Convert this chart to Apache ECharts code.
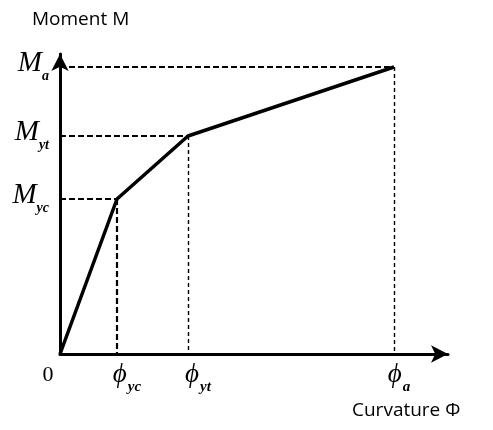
<!DOCTYPE html>
<html>
<head>
<meta charset="utf-8">
<script src="https://cdn.jsdelivr.net/npm/echarts@6/dist/echarts.min.js"></script>
<style>
  html, body { margin: 0; padding: 0; background: #fff; }
</style>
</head>
<body>
<div id="chart" style="width: 493px; height: 430px"></div>
<script>
// key points of the trilinear moment-curvature curve: origin, yc, yt, a
const curvature = [0, 57, 128, 334];
const moment = [0, 155, 218, 287];
const pointSubs = ['', 'yc', 'yt', 'a'];

const serif = '"Liberation Serif", "DejaVu Serif", serif';

// dashed guide lines from each key point to the two axes
const guides = [];
for (let i = 1; i < curvature.length; i++) {
  guides.push([
    { coord: [0, moment[i]], lineStyle: { width: 2.2, type: [6, 3] } },
    { coord: [curvature[i], moment[i]] }
  ]);
  guides.push([
    {
      coord: [curvature[i], moment[i]],
      lineStyle: i === 1 ? { width: 2.2, type: [6, 3] } : { width: 1.4, type: [4, 3] }
    },
    { coord: [curvature[i], 0] }
  ]);
}

function subOf(list, v) {
  const i = list.indexOf(v);
  return i < 0 ? '' : pointSubs[i];
}

const chart = echarts.init(document.getElementById('chart'));
chart.setOption({
  animation: false,
  title: [
    {
      text: 'Moment M',
      left: 32,
      top: 10,
      padding: 0,
      textStyle: { fontFamily: 'Open Sans', fontSize: 19, fontWeight: 'normal', color: '#000' }
    },
    {
      text: 'Curvature Φ',
      left: 352,
      top: 401,
      padding: 0,
      textStyle: { fontFamily: 'Open Sans', fontSize: 19, fontWeight: 'normal', color: '#000' }
    }
  ],
  grid: { left: 60, right: 45, top: 54, bottom: 76 },
  xAxis: {
    type: 'value',
    min: 0,
    max: 388,
    splitLine: { show: false },
    axisTick: { show: false },
    axisLine: {
      onZero: false,
      symbol: ['none', 'arrow'],
      symbolSize: [13, 17],
      lineStyle: { color: '#000', width: 3 }
    },
    axisLabel: {
      customValues: curvature,
      margin: 0,
      color: '#000',
      formatter: function (v) {
        if (v === 0) return '{z|0}';
        const sub = subOf(curvature, v);
        return (sub.length > 1 ? '{p|ϕ}' : '{p1|ϕ}') + '{s|' + sub + '}';
      },
      rich: {
        z: { fontFamily: serif, fontSize: 22, padding: [10, 24, 0, 0], color: '#000' },
        p: { fontFamily: serif, fontSize: 27, fontStyle: 'italic', padding: [0, 0, 0, 20], color: '#000' },
        p1: { fontFamily: serif, fontSize: 27, fontStyle: 'italic', padding: [0, 0, 0, 10], color: '#000' },
        s: { fontFamily: serif, fontSize: 15, fontStyle: 'italic', fontWeight: 'bold', padding: [26, 0, 0, 1], color: '#000' }
      }
    }
  },
  yAxis: {
    type: 'value',
    min: 0,
    max: 300,
    splitLine: { show: false },
    axisTick: { show: false },
    axisLine: {
      onZero: false,
      symbol: ['none', 'arrow'],
      symbolSize: [13, 17],
      lineStyle: { color: '#000', width: 3 }
    },
    axisLabel: {
      customValues: moment.slice(1),
      margin: 11,
      color: '#000',
      formatter: function (v) {
        return '{m|M}{s|' + subOf(moment, v) + '}';
      },
      rich: {
        m: { fontFamily: serif, fontSize: 29, fontStyle: 'italic', padding: [0, 0, 8, 0], color: '#000' },
        s: { fontFamily: serif, fontSize: 14, fontStyle: 'italic', fontWeight: 'bold', padding: [18, 0, 0, 0], color: '#000' }
      }
    }
  },
  series: [
    {
      type: 'line',
      data: curvature.map((x, i) => [x, moment[i]]),
      showSymbol: false,
      lineStyle: { color: '#000', width: 3.5 },
      markLine: {
        silent: true,
        symbol: 'none',
        label: { show: false },
        lineStyle: { color: '#000' },
        data: guides
      }
    }
  ]
});
</script>
</body>
</html>
